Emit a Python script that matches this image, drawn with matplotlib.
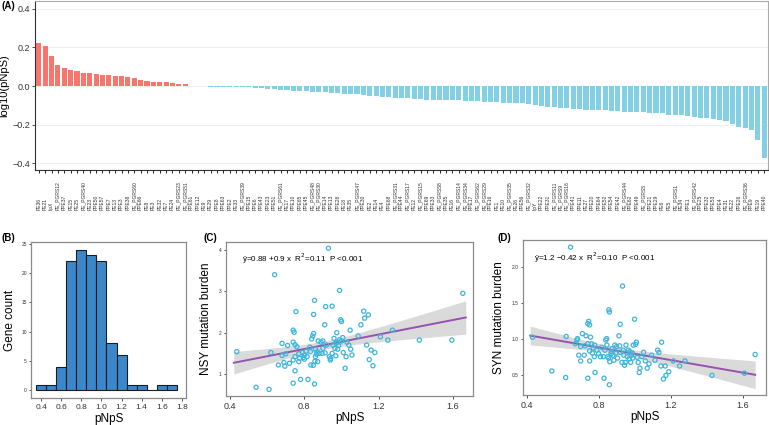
"""pNpS across PE/PPE genes: ranked log10 bars, histogram, and two burden regressions."""
import numpy as np
import matplotlib
matplotlib.use("Agg")
import matplotlib.pyplot as plt

plt.rcParams["font.family"] = ["Liberation Sans", "DejaVu Sans"]

# --- (A) ranked log10(pNpS) per gene ---
genes = [
    "PE36", "PE21", "lipX", "PE_PGRS12", "PPE37", "PE15", "PE25", "PE_PGRS40", "PE23", "PPE50",
    "PPE57", "PPE7", "PE13", "PPE3", "PPE38", "PE_PGRS60", "PPE66", "PE8", "PE3", "PE32",
    "PE7", "PE24", "PE_PGRS23", "PE_PGRS51", "PPE61", "PPE12", "PE9", "PE29", "PPE8", "PPE63",
    "PPE2", "PE33", "PE_PGRS39", "PPE15", "PPE6", "PPE43", "PPE23", "PPE51", "PE_PGRS61", "PE17",
    "PPE10", "PPE65", "PPE45", "PE_PGRS48", "PE_PGRS30", "PPE14", "PPE13", "PPE28", "PE18", "PE35",
    "PE_PGRS47", "PPE30", "PE2", "PE14", "PE4", "PPE68", "PE_PGRS31", "PPE44", "PE_PGRS17", "PE12",
    "PE_PGRS15", "PPE69", "PPE33", "PE_PGRS58", "PPE35", "PE16", "PE_PGRS14", "PE_PGRS34", "PPE17", "PE_PGRS62",
    "PE_PGRS29", "PPE16", "PE1", "PE10", "PE_PGRS35", "PE26", "PPE56", "PE_PGRS32", "lipY", "PPE22",
    "PPE31", "PE_PGRS11", "PE_PGRS9", "PE_PGRS16", "PPE41", "PPE11", "PE27", "PPE20", "PPE64", "PPE52",
    "PPE54", "PPE42", "PE_PGRS44", "PPE62", "PPE49", "PE_PGRS5", "PPE21", "PPE29", "PE6", "PE5",
    "PE_PGRS1", "PE34", "PPE1", "PE_PGRS42", "PPE25", "PPE32", "PPE53", "PPE4", "PE31", "PE22",
    "PPE26", "PE_PGRS36", "PPE9", "PE19", "PPE40",
]
log_pnps = [
    0.223, 0.206, 0.155, 0.107, 0.096, 0.084, 0.076, 0.070, 0.067, 0.062,
    0.060, 0.058, 0.052, 0.050, 0.045, 0.040, 0.029, 0.027, 0.022, 0.021,
    0.019, 0.014, 0.012, 0.009, -0.001, -0.002, -0.002, -0.003, -0.003, -0.004,
    -0.004, -0.005, -0.006, -0.007, -0.008, -0.011, -0.014, -0.017, -0.019, -0.022,
    -0.026, -0.026, -0.028, -0.029, -0.031, -0.032, -0.036, -0.037, -0.040, -0.041,
    -0.043, -0.045, -0.050, -0.051, -0.055, -0.057, -0.060, -0.060, -0.062, -0.069,
    -0.069, -0.070, -0.070, -0.071, -0.072, -0.073, -0.074, -0.076, -0.077, -0.079,
    -0.080, -0.081, -0.084, -0.086, -0.087, -0.088, -0.089, -0.093, -0.096, -0.101,
    -0.108, -0.110, -0.112, -0.115, -0.118, -0.119, -0.122, -0.124, -0.125, -0.125,
    -0.127, -0.129, -0.132, -0.134, -0.135, -0.136, -0.137, -0.139, -0.141, -0.148,
    -0.150, -0.151, -0.156, -0.161, -0.163, -0.168, -0.173, -0.175, -0.182, -0.196,
    -0.211, -0.218, -0.228, -0.278, -0.371,
]

# --- (B) histogram of pNpS ---
bin_centers = [0.4, 0.5, 0.6, 0.7, 0.8, 0.9, 1.0, 1.1, 1.2, 1.3, 1.4, 1.5, 1.6, 1.7]
gene_counts = [1, 1, 4, 22, 24, 23, 22, 8, 6, 1, 1, 0, 1, 1]

# --- (C) NSY burden vs pNpS ---
nsy_x = [
    0.436, 0.54, 0.61, 0.62, 0.64, 0.66, 0.68, 0.69, 0.695, 0.70, 0.71, 0.72, 0.74, 0.74, 0.74,
    0.745, 0.74, 0.75, 0.75, 0.755, 0.75, 0.76, 0.77, 0.77, 0.775, 0.78, 0.79, 0.795, 0.80, 0.81,
    0.815, 0.82, 0.83, 0.833, 0.835, 0.84, 0.845, 0.848, 0.85, 0.85, 0.855, 0.855, 0.857, 0.86, 0.865,
    0.87, 0.872, 0.875, 0.88, 0.89, 0.895, 0.90, 0.91, 0.912, 0.915, 0.92, 0.93, 0.935, 0.94, 0.942,
    0.95, 0.95, 0.955, 0.96, 0.965, 0.97, 0.975, 0.98, 0.985, 0.99, 0.99, 0.996, 1.00, 1.00, 1.007,
    1.01, 1.02, 1.025, 1.03, 1.04, 1.047, 1.05, 1.057, 1.09, 1.105, 1.12, 1.125, 1.136, 1.145, 1.15,
    1.16, 1.17, 1.18, 1.21, 1.25, 1.275, 1.42, 1.595, 1.654, 0.86, 0.90, 0.97, 0.80, 0.68, 0.98,
]
nsy_y = [
    1.54, 0.68, 0.63, 1.52, 3.40, 1.22, 1.74, 1.28, 1.19, 1.49, 1.69, 1.26, 1.34, 1.77, 2.06,
    2.01, 0.78, 1.71, 1.42, 2.51, 1.08, 1.66, 1.49, 1.30, 1.38, 0.87, 1.52, 1.40, 1.46, 1.55,
    1.42, 0.87, 1.65, 1.54, 1.22, 1.85, 1.92, 1.21, 1.98, 2.44, 2.78, 0.76, 1.31, 1.42, 1.48,
    1.54, 1.30, 1.80, 1.50, 1.77, 1.50, 1.80, 2.19, 1.51, 2.63, 1.70, 4.04, 1.42, 1.34, 1.38,
    1.50, 2.64, 1.70, 1.86, 1.62, 1.44, 2.00, 1.77, 1.69, 1.83, 3.02, 2.31, 1.80, 2.27, 1.88,
    1.52, 1.14, 1.42, 1.77, 1.70, 2.06, 1.60, 1.46, 1.92, 2.19, 2.52, 2.35, 1.70, 2.43, 1.35,
    1.58, 1.20, 1.52, 1.90, 1.82, 2.06, 1.82, 1.82, 2.95, 1.60, 1.62, 1.75, 1.36, 1.45, 1.60,
]

# --- (D) SYN burden vs pNpS ---
syn_x = [
    0.433, 0.54, 0.617, 0.62, 0.644, 0.67, 0.68, 0.683, 0.69, 0.70, 0.70, 0.71, 0.72, 0.725, 0.73,
    0.74, 0.74, 0.74, 0.745, 0.75, 0.75, 0.75, 0.755, 0.76, 0.765, 0.776, 0.778, 0.78, 0.79, 0.81,
    0.817, 0.826, 0.83, 0.835, 0.84, 0.845, 0.846, 0.85, 0.856, 0.857, 0.86, 0.86, 0.862, 0.87, 0.874,
    0.88, 0.885, 0.89, 0.896, 0.90, 0.905, 0.913, 0.917, 0.92, 0.93, 0.933, 0.937, 0.94, 0.944, 0.948,
    0.952, 0.96, 0.965, 0.97, 0.974, 0.978, 0.983, 0.987, 0.993, 1.00, 1.006, 1.01, 1.015, 1.02, 1.026,
    1.03, 1.04, 1.05, 1.06, 1.07, 1.094, 1.113, 1.128, 1.135, 1.15, 1.146, 1.16, 1.17, 1.174, 1.19,
    1.215, 1.25, 1.28, 1.43, 1.61, 1.67, 0.80, 0.87, 0.99, 1.08, 0.77, 0.92,
]
syn_y = [
    1.03, 0.56, 0.47, 1.04, 2.28, 0.94, 0.99, 1.01, 0.78, 0.90, 0.70, 1.08, 0.78, 0.91, 1.05,
    0.94, 1.22, 0.46, 1.25, 0.84, 1.20, 0.70, 1.03, 0.94, 0.81, 0.76, 0.92, 0.54, 0.85, 0.76,
    0.89, 0.76, 0.46, 0.85, 0.99, 1.01, 0.92, 0.76, 0.74, 1.41, 1.38, 0.37, 0.69, 0.83, 0.87,
    0.78, 0.71, 0.92, 0.81, 0.90, 0.74, 1.05, 0.91, 1.21, 0.68, 1.74, 0.85, 0.78, 0.64, 0.68,
    0.92, 0.76, 0.85, 0.73, 0.83, 0.68, 0.78, 0.81, 0.92, 1.28, 0.93, 0.96, 0.75, 0.68, 0.54,
    0.60, 0.76, 0.82, 0.70, 0.60, 0.78, 0.71, 0.85, 0.82, 0.96, 0.63, 0.45, 0.63, 0.50, 0.55,
    0.70, 0.63, 0.70, 0.50, 0.53, 0.79, 0.80, 0.80, 0.74, 0.66, 0.88, 0.82,
]

RED, BLUE = "#F8766D", "#83D0E4"
FRAME = "#8a8a8a"
W, H = 769, 425


def px_axes(fig, left, top, right, bottom):
    return fig.add_axes([left / W, 1 - bottom / H, (right - left) / W, (bottom - top) / H])


def boxed(ax, ysize=3.5, xsize=6.5):
    for s in ax.spines.values():
        s.set_color(FRAME)
        s.set_linewidth(0.9)
    ax.tick_params(axis="y", labelsize=ysize, length=1.5, width=0.6, pad=1.5, colors="#333333")
    ax.tick_params(axis="x", labelsize=xsize, length=2, width=0.6, pad=2, colors="#333333")


def fit_band(ax, x, y, lo, hi):
    x = np.asarray(x); y = np.asarray(y)
    b, a = np.polyfit(x, y, 1)
    xs = np.linspace(lo, hi, 100)
    n = len(x)
    s = np.sqrt(np.sum((y - (a + b * x)) ** 2) / (n - 2))
    se = s * np.sqrt(1 / n + (xs - x.mean()) ** 2 / np.sum((x - x.mean()) ** 2))
    ys = a + b * xs
    ax.fill_between(xs, ys - 1.98 * se, ys + 1.98 * se, color="#bdbdbd", alpha=0.55, lw=0, zorder=1)
    ax.plot(xs, ys, color="#9652AC", lw=1.4, zorder=3)


fig = plt.figure(figsize=(W / 100, H / 100), dpi=100)

# (A)
ax = px_axes(fig, 35, 1, 768, 170)
pos = np.arange(len(genes))
vals = np.array(log_pnps)
ax.bar(pos, vals, width=0.8, color=np.where(vals > 0, RED, BLUE), zorder=2)
ax.set_xlim(-0.6, len(genes) - 0.4)
ax.set_ylim(-0.435, 0.441)
ax.set_yticks([-0.4, -0.2, 0.0, 0.2, 0.4])
ax.set_yticklabels(["\u22120.4", "\u22120.2", "0.0", "0.2", "0.4"])
ax.grid(axis="y", color="#ebebeb", lw=0.6, zorder=0)
ax.set_xticks(pos)
ax.set_xticklabels(genes, rotation=90, fontsize=3.6, va="bottom", color="#333333")
ax.tick_params(axis="x", length=2, width=0.6, pad=27)
ax.tick_params(axis="y", labelsize=6.5, length=2, width=0.6, pad=1.5, colors="#333333")
for side in ("top", "right"):
    ax.spines[side].set_color("#aaaaaa")
for side in ("left", "bottom"):
    ax.spines[side].set_color("#333333")
ax.set_ylabel("log10(pNpS)", fontsize=8, labelpad=2)
fig.text(2 / W, 1 - 6 / H, "(A)", fontsize=7, fontweight="bold", va="center")

# (B)
ax = px_axes(fig, 31, 242, 186, 398)
ax.bar(bin_centers, gene_counts, width=0.1, color="#3B87C9", edgecolor="#1c1c1c", lw=0.8, zorder=2)
ax.set_xlim(0.3, 1.84)
ax.set_ylim(-1.3, 25.3)
ax.set_xticks([0.4, 0.6, 0.8, 1.0, 1.2, 1.4, 1.6, 1.8])
ax.set_yticks([0, 5, 10, 15, 20, 25])
boxed(ax, ysize=3.5, xsize=6)
ax.set_xlabel("pNpS", fontsize=8.5, labelpad=2)
ax.set_ylabel("Gene count", fontsize=8.5, labelpad=4)
fig.text(2 / W, 1 - 238 / H, "(B)", fontsize=7, fontweight="bold", va="center")

# (C)
ax = px_axes(fig, 226, 242, 473, 396)
fit_band(ax, nsy_x, nsy_y, 0.42, 1.67)
ax.scatter(nsy_x, nsy_y, s=9, facecolors="none", edgecolors="#3DB5DA", linewidths=0.9, zorder=4)
ax.set_xlim(0.378, 1.709)
ax.set_ylim(0.47, 4.19)
ax.set_xticks([0.4, 0.8, 1.2, 1.6])
ax.set_yticks([1, 2, 3, 4])
boxed(ax)
ax.set_xlabel("pNpS", fontsize=8.5, labelpad=1)
ax.set_ylabel("NSY mutation burden", fontsize=8.5, labelpad=5)
ax.text(0.065, 0.89, "\u0177=0.88 +0.9 x  R$^2$=0.11  P <0.001", transform=ax.transAxes,
        fontsize=5.8, va="center")
fig.text(203 / W, 1 - 238 / H, "(C)", fontsize=7, fontweight="bold", va="center")

# (D)
ax = px_axes(fig, 523, 240, 766, 395)
fit_band(ax, syn_x, syn_y, 0.42, 1.67)
ax.scatter(syn_x, syn_y, s=9, facecolors="none", edgecolors="#3DB5DA", linewidths=0.9, zorder=4)
ax.set_xlim(0.38, 1.73)
ax.set_ylim(0.227, 2.38)
ax.set_xticks([0.4, 0.8, 1.2, 1.6])
ax.set_yticks([0.5, 1.0, 1.5, 2.0])
boxed(ax)
ax.set_xlabel("pNpS", fontsize=8.5, labelpad=1)
ax.set_ylabel("SYN mutation burden", fontsize=8.5, labelpad=5)
ax.text(0.045, 0.885, "\u0177=1.2 \u22120.42 x  R$^2$=0.10  P <0.001",
        transform=ax.transAxes, fontsize=5.8, va="center")
fig.text(497 / W, 1 - 238 / H, "(D)", fontsize=7, fontweight="bold", va="center")

fig.savefig("out.png", dpi=100)
